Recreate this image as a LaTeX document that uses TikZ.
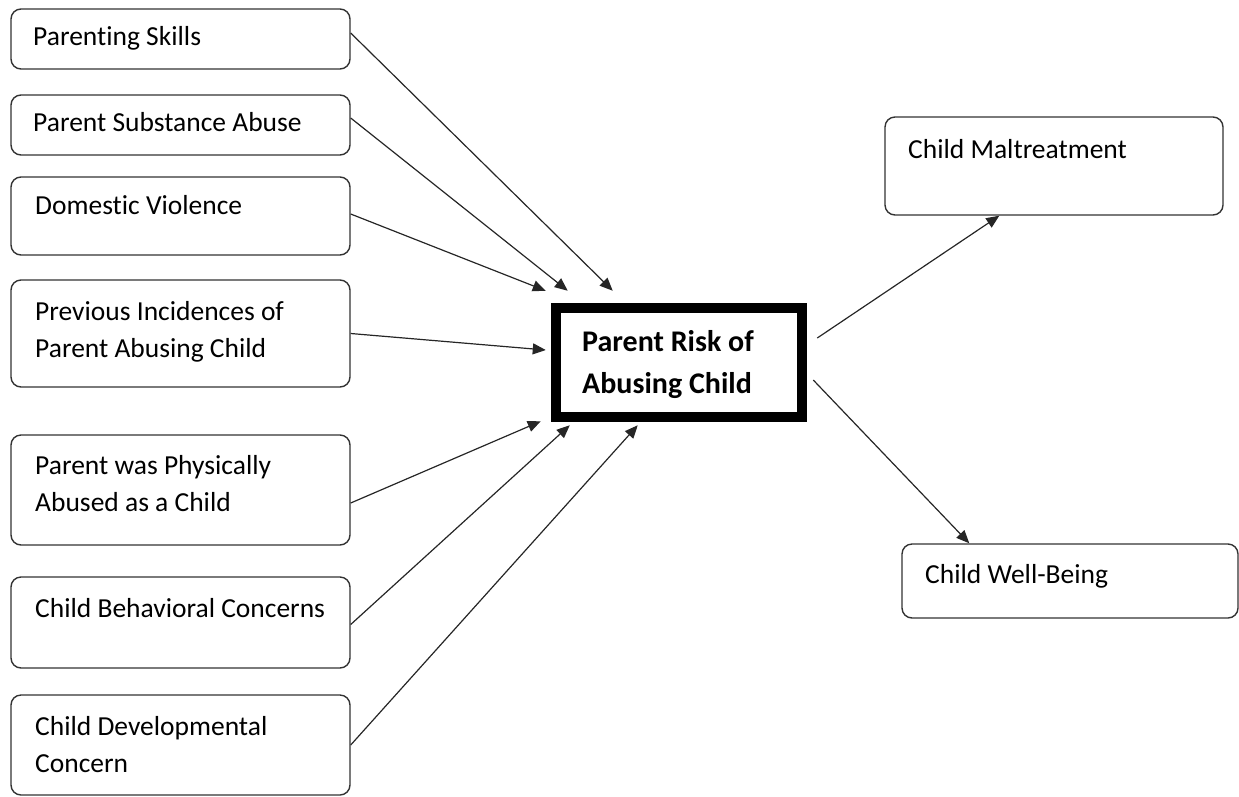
\documentclass[tikz,border=0pt]{standalone}
\usepackage{fontspec}
\setmainfont{Carlito}[Ligatures=NoCommon]
\usetikzlibrary{arrows.meta}
\begin{document}
\begin{tikzpicture}[x=1pt,y=-1pt,
  box/.style={draw=black!80,line width=1.4pt,rounded corners=10pt,inner sep=0pt},
  lbl/.style={anchor=base west,inner sep=0pt,font=\fontsize{27.5}{37}\selectfont,align=left},
  conn/.style={draw=black!85,line width=1.2pt,-{Triangle[length=13pt,width=11pt]}}]
\useasboundingbox (0,0) rectangle (1239,796);
% left boxes
\node[box,minimum width=339pt,minimum height=60pt] (b1) at (180.5,39) {};
\node[box,minimum width=339pt,minimum height=60pt] (b2) at (180.5,125) {};
\node[box,minimum width=339pt,minimum height=78pt] (b3) at (180.5,216) {};
\node[box,minimum width=339pt,minimum height=107pt] (b4) at (180.5,333.5) {};
\node[box,minimum width=339pt,minimum height=110pt] (b5) at (180.5,490) {};
\node[box,minimum width=339pt,minimum height=91pt] (b6) at (180.5,622.5) {};
\node[box,minimum width=339pt,minimum height=100pt] (b7) at (180.5,745) {};
\node[lbl] (t1) at (33,45) {Parenting Skills};
\node[lbl] (t2) at (33,131) {Parent Substance Abuse};
\node[lbl] (t3) at (35,214) {Domestic Violence};
\node[lbl] (t4) at (35,357) {Previous Incidences of\\Parent Abusing Child};
\node[lbl] (t5) at (35,511) {Parent was Physically\\Abused as a Child};
\node[lbl] (t6) at (35,617) {Child Behavioral Concerns};
\node[lbl] (t7) at (35,772) {Child Developmental\\Concern};
% center
\node[draw=black,line width=10.5pt,minimum width=246pt,minimum height=109pt,inner sep=0pt] (c) at (679,362.5) {};
\node[anchor=base west,inner sep=0pt,align=left,font=\fontsize{30}{42}\selectfont\bfseries] (ct) at (582,393) {Parent Risk of\\Abusing Child};
% right boxes
\node[box,minimum width=338pt,minimum height=98pt] (cm) at (1054,166) {};
\node[lbl] (tcm) at (908,158) {Child Maltreatment};
\node[box,minimum width=336pt,minimum height=74pt] (wb) at (1070,581) {};
\node[lbl] (twb) at (925,583) {Child Well-Being};
% connectors
\draw[conn] ([yshift=6]b1.east) -- ([shift={(62,-12)}]c.north west);
\draw[conn] ([yshift=7]b2.east) -- ([shift={(17,-12)}]c.north west);
\draw[conn] ([yshift=2]b3.east) -- ([shift={(-5,-12)}]c.north west);
\draw[conn] (b4.east) -- ([shift={(-5,-12.5)}]c.west);
\draw[conn] ([yshift=-13]b5.east) -- ([shift={(-10,-1)}]c.south west);
\draw[conn] ([yshift=-2]b6.east) -- ([shift={(19,3)}]c.south west);
\draw[conn] (b7.east) -- ([shift={(87,3)}]c.south west);
\draw[conn] ([shift={(10,-24.5)}]c.east) -- ([xshift=115]cm.south west);
\draw[conn] ([shift={(6,17.5)}]c.east) -- ([xshift=68]wb.north west);
\end{tikzpicture}
\end{document}
